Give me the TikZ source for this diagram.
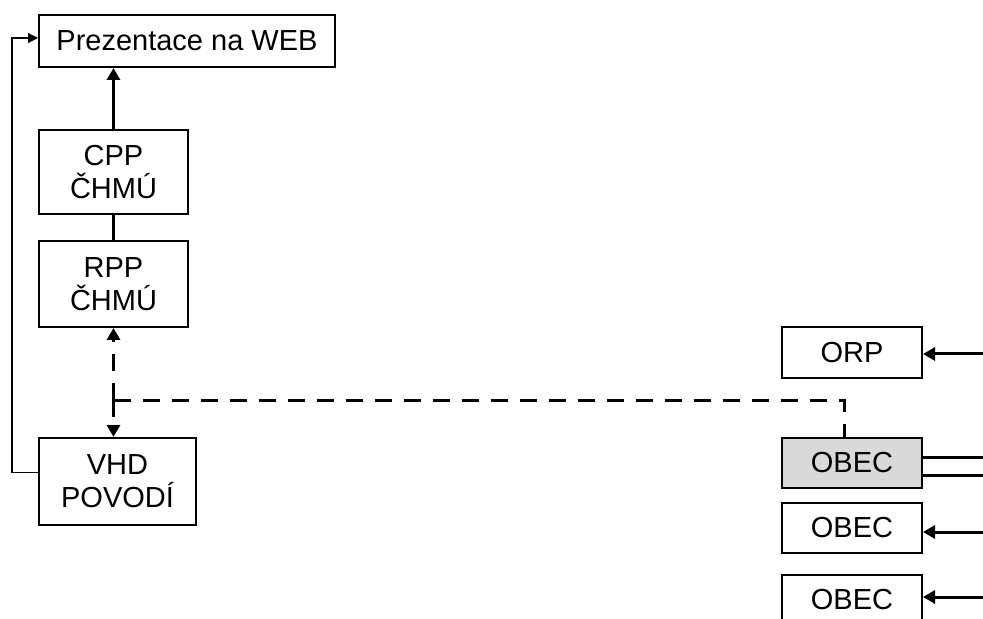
\documentclass[tikz,border=0pt]{standalone}
\usepackage{fontspec}
\setmainfont{Liberation Sans}
\usetikzlibrary{arrows.meta}
\tikzset{
  box/.style={draw,line width=1pt,rectangle,align=center,inner sep=0pt,
    font=\fontsize{14.5}{16.5}\selectfont},
  tip/.style={-{Triangle[length=6pt,width=6.5pt]}},
  flow/.style={line width=1.5pt,tip},
  dashflow/.style={line width=1.5pt,dash pattern=on 8.5pt off 6pt},
}
\begin{document}
\begin{tikzpicture}[x=0.5pt,y=-0.5pt]
      \useasboundingbox (0,0) rectangle (983,619);
      \clip (0,0) rectangle (983,619);
      \draw
        (187,41) node[box,minimum width=148pt,minimum height=26pt] (web){Prezentace na WEB}
        (113.5,172) node[box,minimum width=74.5pt,minimum height=42pt] (cpp){CPP\\ČHMÚ}
        (113.5,284) node[box,minimum width=74.5pt,minimum height=43pt] (rpp){RPP\\ČHMÚ}
        (117.5,481.5) node[box,minimum width=78.5pt,minimum height=43.5pt] (vhd){VHD\\POVODÍ}
        (852,352.5) node[box,minimum width=70pt,minimum height=25.5pt] (orp){ORP}
        (852,463) node[box,minimum width=70pt,minimum height=25pt,fill=black!15] (obec1){OBEC}
        (852,528) node[box,minimum width=70pt,minimum height=25pt] (obec2){OBEC}
        (852,600) node[box,minimum width=70pt,minimum height=25pt] (obec3){OBEC};
      \coordinate (j) at (113.5,400);
      \coordinate (e0) at (983,354);
      \coordinate (e1) at (983,457);
      \coordinate (e2) at (983,475);
      \coordinate (e3) at (983,532);
      \coordinate (e4) at (983,597);
      \begin{scope}[flow]
        \draw (cpp.north) -- (web.south -| cpp.north);
        \draw (e0) -- (orp.east |- e0);
        \draw (e3) -- (obec2.east |- e3);
        \draw (e4) -- (obec3.east |- e4);
      \end{scope}
      \draw[line width=1.5pt] (cpp.south) -- (rpp.north);
      \draw[line width=1.5pt] (e1) -- (obec1.east |- e1);
      \draw[line width=1.5pt] (e2) -- (obec1.east |- e2);
      \begin{scope}[dashflow]
        \draw[tip] (j) -- (rpp.south);
        \draw[tip] (j) -- (rpp.south |- vhd.north);
        \draw (j) -| ([xshift=-4]obec1.north);
      \end{scope}
      \draw[line width=0.6pt,-{Triangle[length=5pt,width=5pt]}]
        ([yshift=4.5]vhd.west) -| (12,38) -- (web.west |- 0,38);
    \end{tikzpicture}
\end{document}
